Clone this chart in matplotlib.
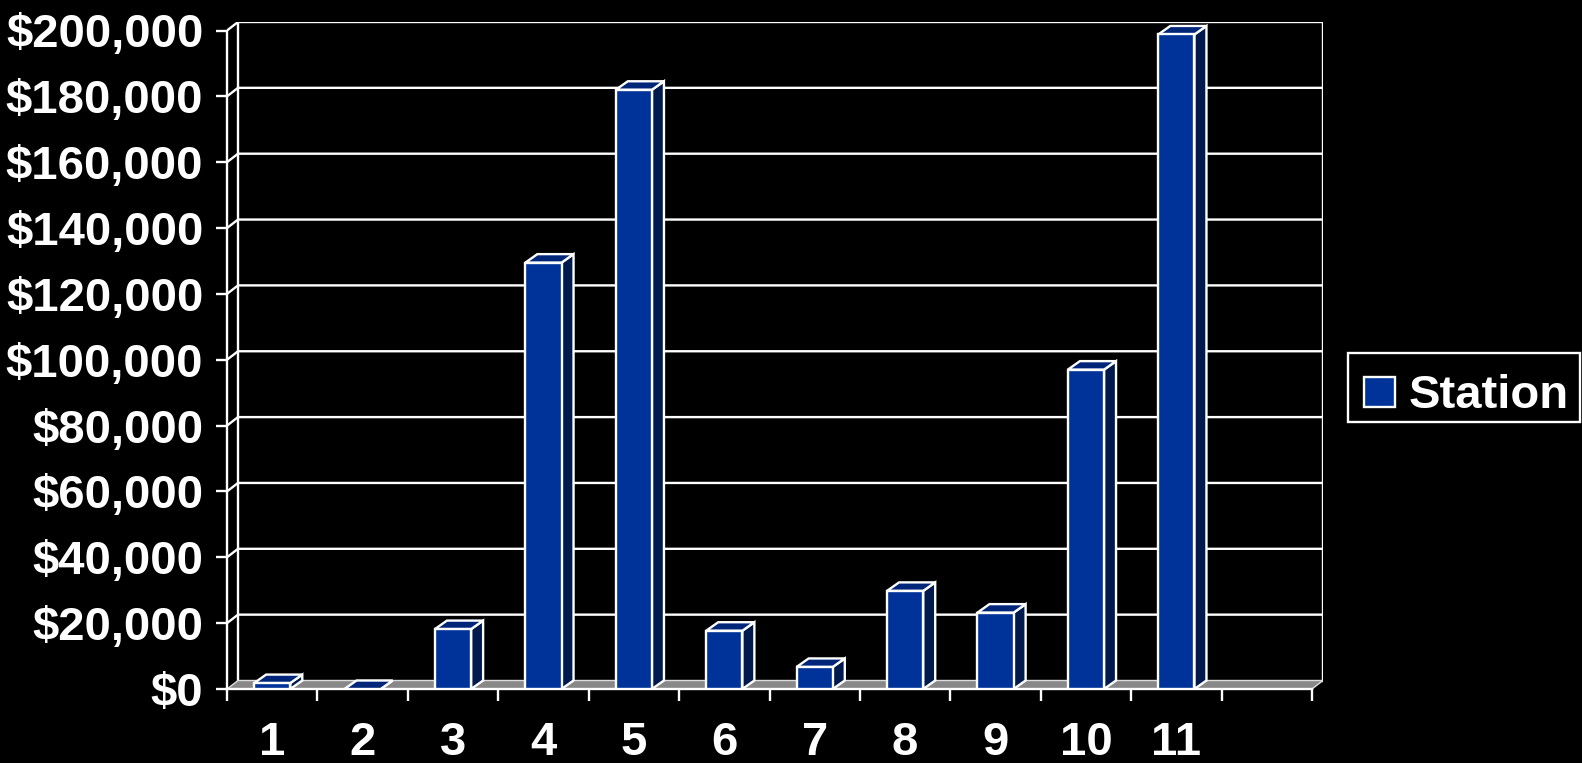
import numpy as np
import matplotlib.pyplot as plt
from matplotlib.patches import Polygon, Rectangle

# data
stations = ['1', '2', '3', '4', '5', '6', '7', '8', '9', '10', '11']
values = [1800, 0, 18200, 129500, 182000, 17700, 6700, 29800, 23200, 97000, 198800]
yticks = np.arange(0, 200001, 20000)
ytick_labels = ['${:,}'.format(v) for v in yticks]
series_name = 'Station'

plt.rcParams['font.family'] = ['Liberation Sans', 'DejaVu Sans']
plt.rcParams['font.weight'] = 'bold'

face = '#003399'
top_c = '#00267a'
side_c = '#001a4d'
floor_c = '#888888'
lw = 1.7

W, H = 1582, 763
fig = plt.figure(figsize=(W / 100, H / 100), dpi=100, facecolor='black')
left, right, top, bottom = 227, 1323, 22, 689
ax = fig.add_axes([left / W, 1 - bottom / H, (right - left) / W, (bottom - top) / H])
ax.set_facecolor('black')

ncat = 12
ymax = yticks[-1]
# depth offset of the 3d look, in data units
dx = 11 * ncat / (right - left - 11)
dy = 8.5 * ymax / (bottom - top - 8.5)
ax.set_xlim(0, ncat + dx)
ax.set_ylim(0, ymax + dy)

# walls + gridlines
for v in yticks[1:]:
    ax.plot([0, dx, ncat + dx], [v, v + dy, v + dy], color='white', lw=lw, zorder=1)
ax.plot([dx, dx], [dy, ymax + dy], color='white', lw=lw, zorder=1)
ax.plot([ncat + dx, ncat + dx], [dy, ymax + dy], color='white', lw=lw, zorder=1)
# floor
ax.add_patch(Polygon([(0, 0), (ncat, 0), (ncat + dx, dy), (dx, dy)],
                     closed=True, fc=floor_c, ec='#dddddd', lw=1.0, zorder=2))

# bars
bw = 0.4
bdx = dx * 12 / 11
for i, v in enumerate(values):
    xc = i + 0.5
    x0, x1 = xc - bw / 2, xc + bw / 2
    front = [(x0, 0), (x1, 0), (x1, v), (x0, v)]
    side = [(x1, 0), (x1 + bdx, dy), (x1 + bdx, v + dy), (x1, v)]
    topf = [(x0, v), (x1, v), (x1 + bdx, v + dy), (x0 + bdx, v + dy)]
    ax.add_patch(Polygon(side, closed=True, fc=side_c, ec='white', lw=lw, zorder=3))
    ax.add_patch(Polygon(topf, closed=True, fc=top_c, ec='white', lw=lw, zorder=3))
    if v > 0:
        ax.add_patch(Polygon(front, closed=True, fc=face, ec='white', lw=lw, zorder=4))

# axes / ticks
for s in ['top', 'right']:
    ax.spines[s].set_visible(False)
ax.spines['left'].set_color('white')
ax.spines['left'].set_linewidth(lw)
ax.spines['left'].set_bounds(0, ymax)
ax.spines['bottom'].set_color('white')
ax.spines['bottom'].set_linewidth(lw)
ax.spines['bottom'].set_bounds(0, ncat)

ax.set_yticks(yticks)
ax.set_yticklabels(ytick_labels)
ax.tick_params(axis='y', colors='white', length=8, width=lw, pad=9, labelsize=34)

ax.set_xticks(np.arange(ncat + 1))
ax.set_xticklabels([])
ax.set_xticks(np.arange(len(stations)) + 0.5, minor=True)
ax.set_xticklabels(stations, minor=True)
ax.tick_params(axis='x', which='major', colors='white', length=8.5, width=lw)
ax.tick_params(axis='x', which='minor', colors='white', length=0, pad=23, labelsize=34)

# legend box, drawn by hand to sit where the reference has it
fig.add_artist(Rectangle((1348 / W, 1 - 422 / H), (1580 - 1348) / W, (422 - 353) / H,
                         transform=fig.transFigure, fc='black', ec='white', lw=lw))
fig.add_artist(Rectangle((1364 / W, 1 - 407 / H), 31 / W, 30 / H,
                         transform=fig.transFigure, fc=face, ec='white', lw=lw))
fig.text(1409 / W, 1 - 408 / H, series_name, color='white', fontsize=34,
         ha='left', va='baseline')

fig.savefig('out.png', dpi=100, facecolor='black')
